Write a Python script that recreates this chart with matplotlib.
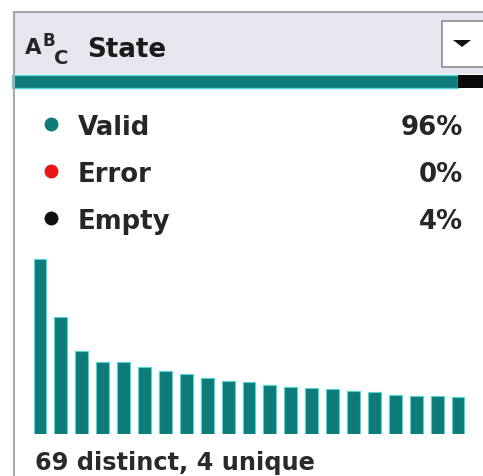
import matplotlib.pyplot as plt
from matplotlib.patches import Rectangle, Polygon
import numpy as np

# value distribution (relative counts)
counts = [175, 117, 83, 72, 72, 67, 63, 60, 56, 53, 52, 49, 47, 46, 45, 43, 42, 39, 38, 38, 37]
states = ['Valid', 'Error', 'Empty']
shares = ['96%', '0%', '4%']
dot_colors = ['#0e7c78', '#e81818', '#111111']
footer = '69 distinct, 4 unique'
column_name = 'State'

teal = '#0f7b78'
W, H = 483, 477
fig = plt.figure(figsize=(W / 100, H / 100), dpi=100)
fig.patch.set_facecolor('white')

# overlay axes in pixel coordinates
ov = fig.add_axes([0, 0, 1, 1])
ov.set_xlim(0, W)
ov.set_ylim(H, 0)
ov.axis('off')

font = ['DejaVu Sans']
txt = '#262626'

# header
ov.add_patch(Rectangle((14, 13), W - 14, 62, facecolor='#e6e6ee', edgecolor='none'))
ov.plot([14, W], [13, 13], color='#a8a8b0', lw=1.5)
ov.plot([14, 14], [13, H], color='#a8a8b0', lw=1.5)
ov.text(25, 54, 'A', fontsize=15.5, fontweight='bold', family=font, color=txt)
ov.text(42, 46, 'B', fontsize=12, fontweight='bold', family=font, color=txt)
ov.text(54, 64, 'C', fontsize=14, fontweight='bold', family=font, color=txt)
ov.text(87, 57, column_name, fontsize=18.8, fontweight='bold', family=font, color='#1a1a1a')

# dropdown box
ov.add_patch(Rectangle((442, 22), 46, 46, facecolor='white', edgecolor='#8a8a92', lw=1.2))
ov.add_patch(Polygon([[453, 41], [471, 41], [462, 48]], closed=True, facecolor='#111111'))

# quality bar
ov.add_patch(Rectangle((12, 76), 446, 13, facecolor=teal, edgecolor='#55d8d8', lw=1))
ov.add_patch(Rectangle((458, 76), W - 458, 13, facecolor='#0a0a0a', edgecolor='none'))

# legend rows
for i, (name, share, c) in enumerate(zip(states, shares, dot_colors)):
    y = 135 + i * 47
    ov.plot(51, y - 10, 'o', ms=9, color=c)
    ov.text(78, y, name, fontsize=18.7, fontweight='bold', family=font, color=txt)
    ov.text(463, y, share, fontsize=18.7, fontweight='bold', family=font, color=txt, ha='right')

ov.text(35, 470, footer, fontsize=17.3, fontweight='bold', family=font, color='#2a2a2a')

# bar chart
n = len(counts)
step = 20.9
left_px = 40 - step / 2
bottom_px = 435
ax = fig.add_axes([left_px / W, (H - bottom_px) / H, n * step / W, 175 / H])
ax.bar(np.arange(n), counts, width=0.62, color=teal, edgecolor='#4fd6d6', linewidth=0.8)
ax.set_xlim(-0.5, n - 0.5)
ax.set_ylim(0, 175)
ax.axis('off')

fig.savefig('out.png', dpi=100)
